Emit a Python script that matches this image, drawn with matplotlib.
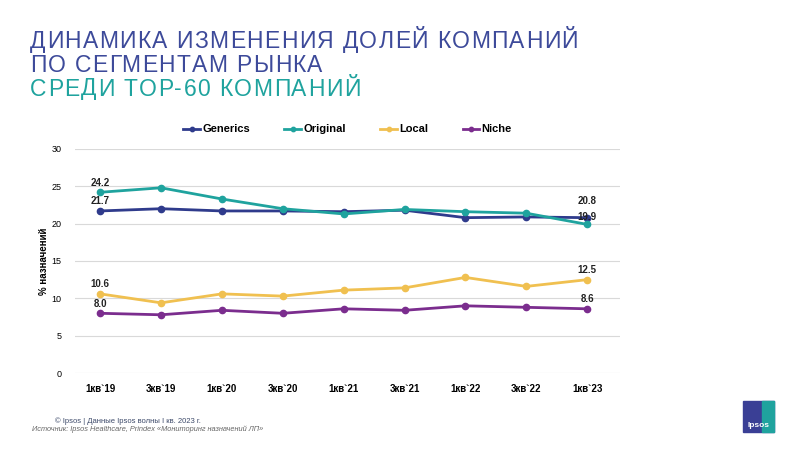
import matplotlib.pyplot as plt
from matplotlib.patches import Rectangle
from matplotlib.font_manager import FontProperties

plt.rcParams['font.family'] = ['Liberation Sans', 'DejaVu Sans']

quarters = ["1кв`19", "3кв`19", "1кв`20", "3кв`20", "1кв`21", "3кв`21", "1кв`22", "3кв`22", "1кв`23"]
generics = [21.7, 22.0, 21.7, 21.7, 21.6, 21.8, 20.8, 20.9, 20.8]
original = [24.2, 24.8, 23.3, 22.0, 21.3, 21.9, 21.6, 21.4, 19.9]
local = [10.6, 9.4, 10.6, 10.3, 11.1, 11.4, 12.8, 11.6, 12.5]
niche = [8.0, 7.8, 8.4, 8.0, 8.6, 8.4, 9.0, 8.8, 8.6]

series = [
    ("Generics", generics, "#2f3b8c"),
    ("Original", original, "#1fa39e"),
    ("Local", local, "#f0c050"),
    ("Niche", niche, "#7b2d8e"),
]

# text, colour, baseline in px from top
title_lines = [
    ("ДИНАМИКА ИЗМЕНЕНИЯ ДОЛЕЙ КОМПАНИЙ", "#3d4a9a", 48),
    ("ПО СЕГМЕНТАМ РЫНКА", "#3d4a9a", 71.5),
    ("СРЕДИ TOP-60 КОМПАНИЙ", "#1fa39e", 95.5),
]

W, H = 800, 450
fig = plt.figure(figsize=(8, 4.5), dpi=100)
ax = fig.add_axes([0.094, 0.171, 0.681, 0.498])

x = list(range(len(quarters)))
for name, vals, col in series:
    ax.plot(x, vals, color=col, lw=2, marker="o", ms=4.5, label=name)

# labels at first and last points
lab = dict(fontsize=7, fontweight="bold", ha="center", va="bottom", color="#222222")
ax.text(0, original[0] + 0.6, f"{original[0]:.1f}", **lab)
ax.text(0, generics[0] + 0.6, f"{generics[0]:.1f}", **lab)
ax.text(0, local[0] + 0.6, f"{local[0]:.1f}", **lab)
ax.text(0, niche[0] + 0.6, f"{niche[0]:.1f}", **lab)
ax.text(8, generics[-1] + 1.5, f"{generics[-1]:.1f}", **lab)
ax.text(8, original[-1] + 0.35, f"{original[-1]:.1f}", **lab)
ax.text(8, local[-1] + 0.6, f"{local[-1]:.1f}", **lab)
ax.text(8, niche[-1] + 0.6, f"{niche[-1]:.1f}", **lab)

ax.set_ylim(0, 30)
ax.set_yticks([0, 5, 10, 15, 20, 25, 30])
ax.set_xlim(-0.41, 8.54)
ax.set_xticks(x)
ax.set_xticklabels(quarters, fontsize=7, fontweight="bold")
ax.tick_params(axis="y", labelsize=6.5, length=0, pad=10)
ax.tick_params(axis="x", length=0, pad=8)
ax.grid(axis="y", color="#d9d9d9", lw=0.8)
ax.set_axisbelow(True)
for s in ax.spines.values():
    s.set_visible(False)
ax.set_ylabel("% назначений", fontsize=7, fontweight="bold", labelpad=2)

ax.legend(loc="lower center", bbox_to_anchor=(0.5, 1.02), ncol=4, frameon=False,
          prop={"size": 8, "weight": "bold"}, handlelength=1.5, columnspacing=3.1,
          handletextpad=0.2, markerscale=0.7)

# title with slight letter spacing (line 1 spans ~30..578 px)
rend = fig.canvas.get_renderer()
tprop = FontProperties(family="Liberation Sans", size=16.5)


def txt_w(t):
    return rend.get_text_width_height_descent(t, tprop, ismath=False)[0]


def advances(s):
    base = txt_w("нн")
    return [txt_w("н" + c + "н") - base for c in s]


adv0 = advances(title_lines[0][0])
track = (548 - sum(adv0)) / (len(adv0) - 1)
for line, col, ypx in title_lines:
    xp = 30
    for c, a in zip(line, advances(line)):
        fig.text(xp / W, 1 - ypx / H, c, fontproperties=tprop, color=col, va="baseline")
        xp += a + track

fig.text(0.069, 0.065, "© Ipsos | Данные Ipsos волны I кв. 2023 г.", fontsize=5.5, color="#3d4a6a", va="center")
fig.text(0.04, 0.045, "Источник: Ipsos Healthcare, Prindex «Мониторинг назначений ЛП»", fontsize=5.3,
         color="#666666", style="italic", va="center")

# Ipsos logo
fig.patches.append(Rectangle((0.929, 0.04), 0.038, 0.068, transform=fig.transFigure,
                             color="#3a3f95", zorder=1))
fig.patches.append(Rectangle((0.952, 0.04), 0.015, 0.068, transform=fig.transFigure,
                             color="#1fa39e", zorder=1))
fig.text(0.948, 0.055, "Ipsos", fontsize=6, color="white", fontweight="bold", ha="center", va="center")

fig.savefig("out.png", dpi=100)
